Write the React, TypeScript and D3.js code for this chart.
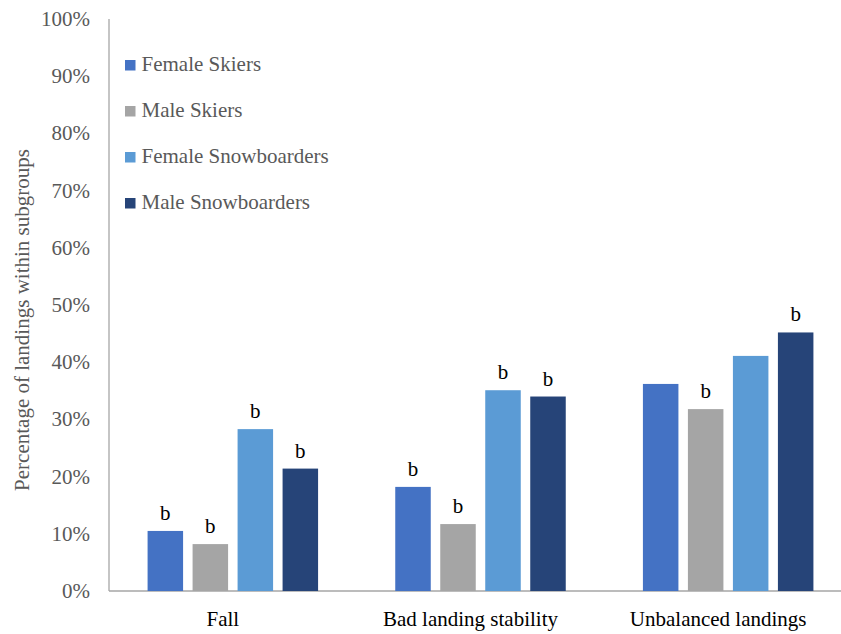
import React from "react";
import * as d3 from "d3";

const categories = ["Fall", "Bad landing stability", "Unbalanced landings"];
const seriesNames = ["Female Skiers", "Male Skiers", "Female Snowboarders", "Male Snowboarders"];
const seriesColors = ["#4472C4", "#A5A5A5", "#5B9BD5", "#264478"];

// Share of landings per subgroup, one array per series (same order as categories)
const femaleSkiers = [0.105, 0.182, 0.362];
const maleSkiers = [0.082, 0.117, 0.318];
const femaleSnowboarders = [0.283, 0.351, 0.411];
const maleSnowboarders = [0.214, 0.340, 0.452];

// Significance marker shown above each bar ("" = none)
const femaleSkiersMarks = ["b", "b", ""];
const maleSkiersMarks = ["b", "b", "b"];
const femaleSnowboardersMarks = ["b", "b", ""];
const maleSnowboardersMarks = ["b", "b", "b"];

const yTicks = [0, 0.1, 0.2, 0.3, 0.4, 0.5, 0.6, 0.7, 0.8, 0.9, 1.0];
const yTitle = "Percentage of landings within subgroups";

const seriesValues = [femaleSkiers, maleSkiers, femaleSnowboarders, maleSnowboarders];
const seriesMarks = [femaleSkiersMarks, maleSkiersMarks, femaleSnowboardersMarks, maleSnowboardersMarks];

const W = 841;
const H = 634;
const FONT = '"Liberation Serif", "Times New Roman", serif';
const TEXT_GRAY = "#595959";
const AXIS_GRAY = "#A6A6A6";

export default function App() {
  const x0 = 109;
  const yBase = 591;
  const yTop = 19;

  const y = d3.scaleLinear().domain([0, 1]).range([yBase, yTop]);
  const xGroup = d3.scaleBand<string>().domain(categories).range([x0, 852]).paddingInner(0).paddingOuter(0);
  const xSeries = d3
    .scaleBand<number>()
    .domain(d3.range(seriesNames.length))
    .range([-85.25, 85.25])
    .paddingInner(0.211)
    .paddingOuter(0);
  const pct = d3.format(".0%");

  return (
    <svg
      width={W}
      height={H}
      style={{ position: "absolute", left: 0, top: 0, background: "#fff" }}
      fontFamily={FONT}
    >
      {/* y axis tick labels */}
      {yTicks.map((t) => (
        <text key={t} x={90} y={y(t) + 7} textAnchor="end" fontSize={21} fill={TEXT_GRAY}>
          {pct(t)}
        </text>
      ))}

      {/* axis lines */}
      <line x1={x0} x2={x0} y1={yTop} y2={yBase} stroke={AXIS_GRAY} strokeWidth={1.3} />
      <line x1={x0} x2={W} y1={yBase} y2={yBase} stroke={AXIS_GRAY} strokeWidth={1.3} />

      {/* bars and markers */}
      {categories.map((c, ci) => {
        const cx = (xGroup(c) as number) + xGroup.bandwidth() / 2;
        return (
          <g key={c}>
            {seriesValues.map((vals, si) => {
              const bx = cx + (xSeries(si) as number);
              const v = vals[ci];
              const mark = seriesMarks[si][ci];
              return (
                <g key={si}>
                  <rect
                    x={bx}
                    y={y(v)}
                    width={xSeries.bandwidth()}
                    height={yBase - y(v)}
                    fill={seriesColors[si]}
                  />
                  {mark && (
                    <text
                      x={bx + xSeries.bandwidth() / 2}
                      y={y(v) - 11}
                      textAnchor="middle"
                      fontSize={21}
                      fill="#000"
                    >
                      {mark}
                    </text>
                  )}
                </g>
              );
            })}
            <text x={cx - 10} y={626} textAnchor="middle" fontSize={21} fill="#000">
              {c}
            </text>
          </g>
        );
      })}

      {/* legend */}
      {seriesNames.map((name, i) => {
        const base = 71 + i * 46;
        return (
          <g key={name}>
            <rect x={125} y={base - 11} width={10.5} height={10.5} fill={seriesColors[i]} />
            <text x={141.5} y={base} fontSize={21} fill={TEXT_GRAY}>
              {name}
            </text>
          </g>
        );
      })}

      {/* y axis title */}
      <text
        transform={`translate(29, 320) rotate(-90)`}
        textAnchor="middle"
        fontSize={21}
        fill={TEXT_GRAY}
      >
        {yTitle}
      </text>
    </svg>
  );
}
